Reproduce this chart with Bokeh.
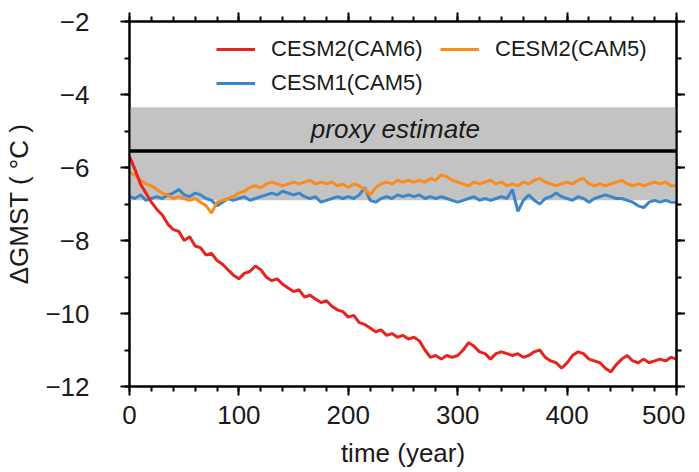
from bokeh.plotting import figure
from bokeh.models import (LinearAxis, FixedTicker, BoxAnnotation, Span, Legend,
                          LegendItem, Range1d, Label, CustomJSTickFormatter)
from bokeh.embed import file_html
from bokeh.resources import INLINE

years = list(range(0, 501, 5))

cesm2_cam6 = [
    -5.70, -6.05, -6.45, -6.70, -6.95, -7.15, -7.30, -7.55, -7.70, -7.75,
    -8.00, -7.90, -8.15, -8.20, -8.40, -8.35, -8.55, -8.65, -8.80, -8.95,
    -9.05, -8.90, -8.85, -8.70, -8.80, -9.00, -9.10, -9.05, -9.20, -9.30,
    -9.40, -9.35, -9.55, -9.50, -9.60, -9.70, -9.65, -9.80, -9.90, -9.95,
    -10.10, -10.05, -10.25, -10.30, -10.40, -10.50, -10.45, -10.60, -10.55, -10.65,
    -10.60, -10.70, -10.65, -10.75, -11.00, -11.20, -11.15, -11.25, -11.15, -11.20,
    -11.15, -11.00, -10.80, -10.90, -11.05, -11.10, -11.25, -11.10, -11.05, -11.10,
    -11.15, -11.10, -11.20, -11.15, -11.05, -11.00, -11.20, -11.30, -11.35, -11.50,
    -11.35, -11.15, -11.05, -11.10, -11.25, -11.30, -11.35, -11.50, -11.60, -11.40,
    -11.25, -11.15, -11.30, -11.35, -11.25, -11.35, -11.30, -11.25, -11.30, -11.20,
    -11.25,
]

cesm2_cam5 = [
    -6.15, -6.20, -6.35, -6.45, -6.50, -6.60, -6.70, -6.75, -6.85, -6.80,
    -6.85, -6.90, -6.85, -6.95, -7.05, -7.25, -6.95, -6.90, -6.85, -6.80,
    -6.70, -6.65, -6.55, -6.50, -6.55, -6.45, -6.40, -6.45, -6.50, -6.45,
    -6.40, -6.45, -6.40, -6.35, -6.45, -6.40, -6.45, -6.40, -6.50, -6.45,
    -6.55, -6.45, -6.50, -6.60, -6.75, -6.55, -6.45, -6.40, -6.45, -6.35,
    -6.40, -6.35, -6.40, -6.35, -6.40, -6.30, -6.35, -6.20, -6.25, -6.35,
    -6.40, -6.45, -6.50, -6.40, -6.45, -6.40, -6.35, -6.45, -6.40, -6.50,
    -6.45, -6.50, -6.40, -6.45, -6.35, -6.30, -6.40, -6.45, -6.50, -6.45,
    -6.40, -6.45, -6.35, -6.30, -6.45, -6.50, -6.45, -6.50, -6.45, -6.40,
    -6.35, -6.45, -6.50, -6.45, -6.50, -6.45, -6.40, -6.45, -6.40, -6.50,
    -6.50,
]

cesm1_cam5 = [
    -6.80, -6.85, -6.75, -6.90, -6.85, -6.80, -6.85, -6.75, -6.70, -6.60,
    -6.75, -6.80, -6.70, -6.75, -6.85, -6.90, -7.05, -6.95, -6.85, -6.90,
    -6.85, -6.80, -6.90, -6.85, -6.80, -6.75, -6.70, -6.75, -6.65, -6.70,
    -6.75, -6.70, -6.80, -6.85, -6.80, -6.95, -6.90, -6.85, -6.80, -6.85,
    -6.80, -6.85, -6.75, -6.55, -6.90, -6.95, -6.85, -6.80, -6.85, -6.75,
    -6.80, -6.75, -6.80, -6.75, -6.85, -6.80, -6.85, -6.80, -6.85, -6.90,
    -6.95, -6.90, -6.85, -6.80, -6.90, -6.85, -6.90, -6.85, -6.80, -6.85,
    -6.60, -7.20, -6.90, -6.75, -6.90, -7.00, -6.85, -6.80, -6.70, -6.80,
    -6.85, -6.90, -6.80, -6.85, -6.95, -6.85, -6.80, -6.75, -6.80, -6.85,
    -6.85, -6.90, -6.95, -7.05, -7.10, -6.95, -6.90, -6.95, -6.90, -6.95,
    -6.95,
]

series_names = ["CESM2(CAM6)", "CESM1(CAM5)", "CESM2(CAM5)"]

x_ticks = [0, 100, 200, 300, 400, 500]
x_minor_ticks = list(range(0, 501, 20))
y_ticks = [-12, -10, -8, -6, -4, -2]
y_minor_ticks = list(range(-12, -1))
y_tick_labels = {-12: "\u221212", -10: "\u221210", -8: "\u22128",
                 -6: "\u22126", -4: "\u22124", -2: "\u22122"}

proxy_top = -4.35
proxy_bottom = -6.9
proxy_mean = -5.55

FONT = "Liberation Sans"
TXT = "#1a1a1a"

p = figure(frame_width=547, frame_height=365,
           min_border_left=129, min_border_right=7,
           min_border_top=21, min_border_bottom=63,
           x_range=Range1d(0, 500), y_range=Range1d(-12, -2),
           output_backend="svg", toolbar_location=None,
           background_fill_color="white", border_fill_color="white")
p.grid.visible = False
p.outline_line_color = "black"
p.outline_line_width = 2

xt = FixedTicker(ticks=x_ticks, minor_ticks=x_minor_ticks)
yt = FixedTicker(ticks=y_ticks, minor_ticks=y_minor_ticks)

def style_axis(ax, ticker, show_labels):
    ax.ticker = ticker
    ax.axis_line_color = "black"
    ax.axis_line_width = 2
    ax.major_tick_line_color = "black"
    ax.major_tick_line_width = 2
    ax.minor_tick_line_color = "black"
    ax.minor_tick_line_width = 2
    ax.major_tick_in = 0
    ax.major_tick_out = 9
    ax.minor_tick_in = 0
    ax.minor_tick_out = 5
    if show_labels:
        ax.major_label_text_font = FONT
        ax.major_label_text_font_size = "26px"
        ax.major_label_text_color = TXT
        ax.axis_label_text_font = FONT
        ax.axis_label_text_font_size = "26px"
        ax.axis_label_text_font_style = "normal"
        ax.axis_label_text_color = TXT
    else:
        ax.formatter = CustomJSTickFormatter(code="return ''")
        ax.major_label_standoff = 0

xa = p.xaxis[0]
style_axis(xa, xt, True)
xa.axis_label = "time (year)"
xa.major_label_standoff = 10
xa.axis_label_standoff = 11

ya = p.yaxis[0]
style_axis(ya, yt, True)
ya.axis_label = "\u0394GMST ( \u00b0C )"
ya.major_label_overrides = y_tick_labels
ya.major_label_standoff = 31
ya.axis_label_standoff = 8

top = LinearAxis()
style_axis(top, FixedTicker(ticks=x_ticks, minor_ticks=x_minor_ticks), False)
p.add_layout(top, "above")
right = LinearAxis()
style_axis(right, FixedTicker(ticks=y_ticks, minor_ticks=y_minor_ticks), False)
p.add_layout(right, "right")

band = BoxAnnotation(bottom=proxy_bottom, top=proxy_top, fill_color="#c3c3c3",
                     fill_alpha=1.0, line_color=None, level="underlay")
p.add_layout(band)
p.add_layout(Span(location=proxy_mean, dimension="width", line_color="black",
                  line_width=3.5))
p.add_layout(Label(x=243, y=(proxy_top + proxy_mean) / 2, text="proxy estimate",
                   text_align="center", text_baseline="middle",
                   text_font=FONT, text_font_size="26px", text_font_style="italic",
                   text_color=TXT))

r_blue = p.line(years, cesm1_cam5, line_color="#3a86c8", line_width=3)
r_orange = p.line(years, cesm2_cam5, line_color="#fa8c1e", line_width=3)
r_red = p.line(years, cesm2_cam6, line_color="#e8221e", line_width=3)

legend = Legend(items=[LegendItem(label=series_names[0], renderers=[r_red]),
                       LegendItem(label=series_names[1], renderers=[r_blue]),
                       LegendItem(label=series_names[2], renderers=[r_orange])],
                location=(87, 290), orientation="vertical", nrows=2,
                label_text_font=FONT, label_text_font_size="22px",
                label_text_color=TXT, glyph_width=39, glyph_height=26,
                label_height=26, label_width=161, label_standoff=16, spacing=8,
                padding=0, margin=0, border_line_color=None,
                background_fill_alpha=0)
p.add_layout(legend)

open("out.html", "w").write(file_html(p, INLINE))
